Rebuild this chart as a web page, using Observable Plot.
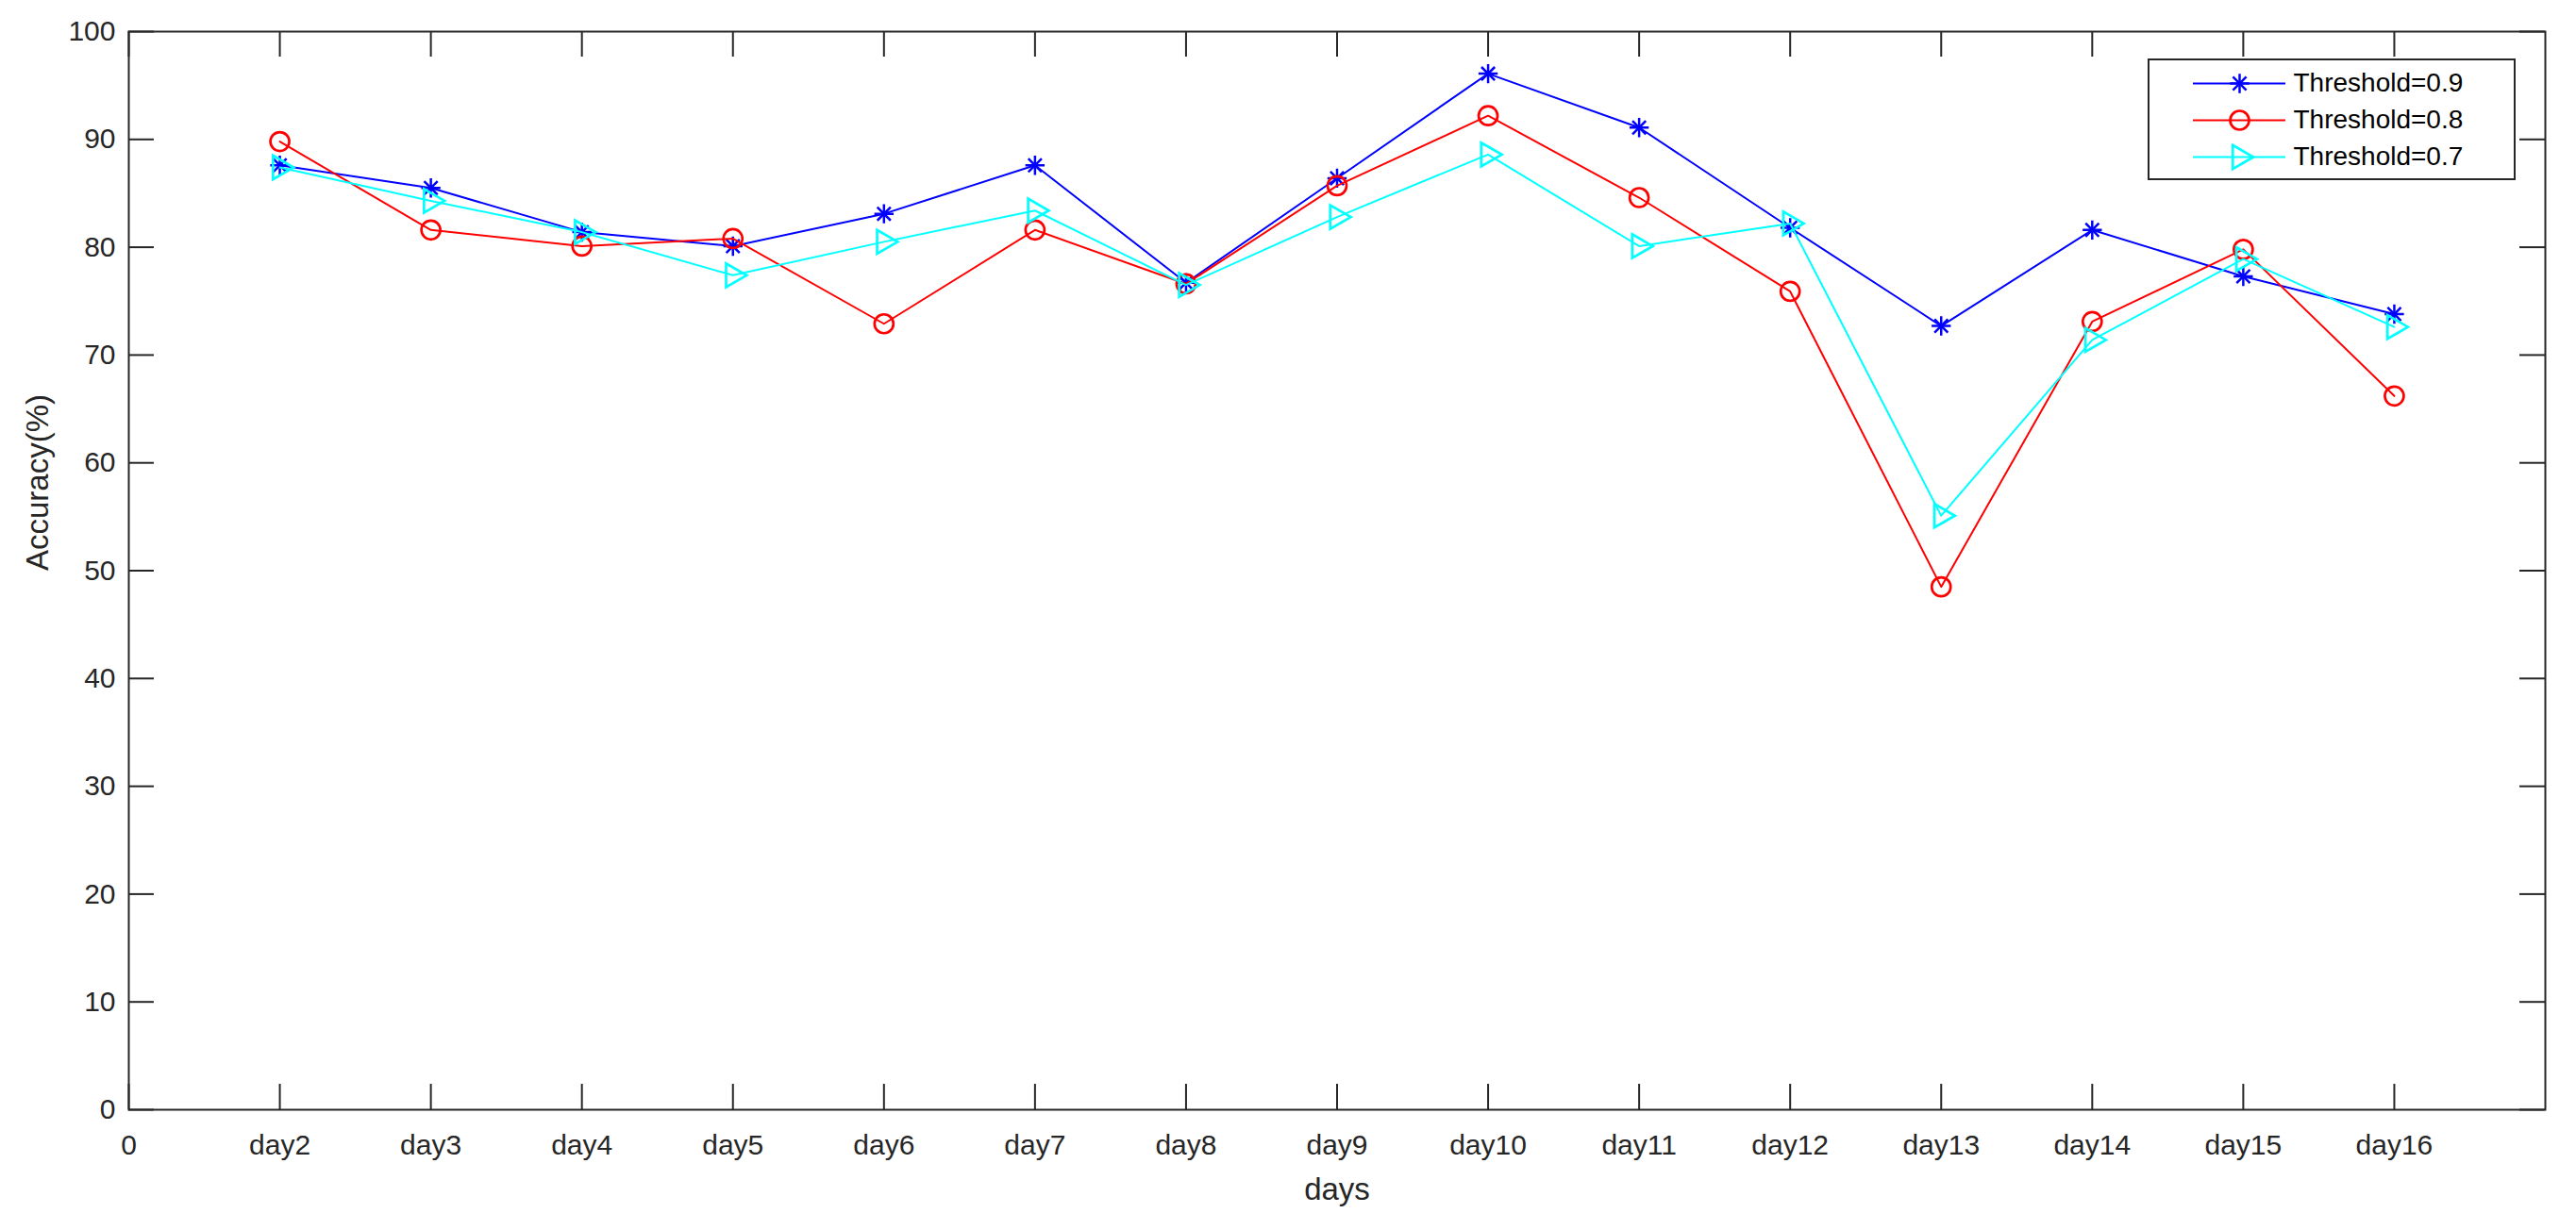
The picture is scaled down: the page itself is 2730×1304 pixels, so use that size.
<!DOCTYPE html>
<html>
<head>
<meta charset="utf-8">
<script src="https://cdn.jsdelivr.net/npm/d3@7"></script>
<script src="https://cdn.jsdelivr.net/npm/@observablehq/plot@0.6"></script>
<style>
  body { margin: 0; background: #fff; }
  #wrap { position: relative; width: 2730px; height: 1304px; font-family: "Liberation Sans", Arial, Helvetica, sans-serif; }
  #legend { position: absolute; left: 2276px; top: 62px; width: 390px; height: 129px; border: 2px solid #262626; background: #fff; box-sizing: border-box; }
  svg { display: block; }
</style>
</head>
<body>
<div id="wrap"><div id="chart"></div><div id="legend"></div></div>
<script>
// ---- data ----
const days = ["day2","day3","day4","day5","day6","day7","day8","day9","day10","day11","day12","day13","day14","day15","day16"];
const xTickValues = [0,1,2,3,4,5,6,7,8,9,10,11,12,13,14,15];
const xTickLabels = ["0","day2","day3","day4","day5","day6","day7","day8","day9","day10","day11","day12","day13","day14","day15","day16"];
const yTickValues = [0,10,20,30,40,50,60,70,80,90,100];
const seriesNames = ["Threshold=0.9","Threshold=0.8","Threshold=0.7"];
const threshold09 = [87.6,85.5,81.4,80.1,83.1,87.6,76.7,86.4,96.1,91.1,81.8,72.7,81.6,77.3,73.8];
const threshold08 = [89.8,81.6,80.1,80.8,72.9,81.6,76.6,85.7,92.2,84.6,75.9,48.5,73.1,79.8,66.2];
const threshold07 = [87.4,84.3,81.4,77.4,80.5,83.4,76.5,82.8,88.6,80.1,82.2,55.1,71.4,78.9,72.6];
const colors = ["#0000ff","#ff0000","#00ffff"];

const seriesValues = [threshold09, threshold08, threshold07];
const tables = seriesValues.map((vals, s) => vals.map((v, i) => ({x: i + 1, day: days[i], value: v, series: seriesNames[s]})));

const axisColor = "#262626";
const font = "'Liberation Sans', Arial, Helvetica, sans-serif";
const W = 2730, H = 1304;
const mL = 136, mR = 33, mT = 33, mB = 128;
const plotW = W - mL - mR, plotH = H - mT - mB;
const tickLen = 27;

const marks = [];
// ticks inward on all sides
marks.push(Plot.tickX(xTickValues, {x: d => d, stroke: axisColor, strokeWidth: 2, insetTop: plotH - tickLen}));
marks.push(Plot.tickX(xTickValues, {x: d => d, stroke: axisColor, strokeWidth: 2, insetBottom: plotH - tickLen}));
marks.push(Plot.tickY(yTickValues, {y: d => d, stroke: axisColor, strokeWidth: 2, insetRight: plotW - tickLen}));
marks.push(Plot.tickY(yTickValues, {y: d => d, stroke: axisColor, strokeWidth: 2, insetLeft: plotW - tickLen}));
marks.push(Plot.frame({stroke: axisColor, strokeWidth: 2}));
marks.push(Plot.axisX({ticks: xTickValues, tickFormat: i => xTickLabels[i], tickSize: 0, tickPadding: 26, fontSize: 30, fill: axisColor, label: null}));
marks.push(Plot.axisY({ticks: yTickValues, tickSize: 0, tickPadding: 14, fontSize: 30, fill: axisColor, label: null}));
marks.push(Plot.text(["days"], {frameAnchor: "bottom", dy: 95, lineAnchor: "bottom", fontSize: 33, fill: axisColor}));
marks.push(Plot.text(["Accuracy(%)"], {frameAnchor: "left", dx: -86, rotate: -90, lineAnchor: "bottom", fontSize: 33, fill: axisColor}));

function seriesMarks(data, s) {
  const c = colors[s];
  const out = [Plot.line(data, {x: "x", y: "value", stroke: c, strokeWidth: 2})];
  if (s === 0) {
    out.push(Plot.dot(data, {x: "x", y: "value", symbol: "plus", r: 6.6, stroke: c, strokeWidth: 2.5, fill: "none"}));
    out.push(Plot.dot(data, {x: "x", y: "value", symbol: "times", r: 6.5, stroke: c, strokeWidth: 2.5, fill: "none"}));
  } else if (s === 1) {
    out.push(Plot.dot(data, {x: "x", y: "value", symbol: "circle", r: 10, stroke: c, strokeWidth: 2.7, fill: "none"}));
  } else {
    out.push(Plot.dot(data, {x: "x", y: "value", symbol: "triangle2", r: 12, rotate: 90, stroke: c, strokeWidth: 2.7, fill: "none"}));
  }
  return out;
}
tables.forEach((t, s) => marks.push(...seriesMarks(t, s)));

const chart = Plot.plot({
  width: W, height: H,
  marginLeft: mL, marginRight: mR, marginTop: mT, marginBottom: mB,
  style: {fontFamily: font, background: "#fff", color: axisColor},
  x: {domain: [0, 16], axis: null},
  y: {domain: [0, 100], axis: null},
  marks
});
document.getElementById("chart").appendChild(chart);

// ---- legend ----
const legendRows = seriesNames.map((name, s) => ({name, s}));
const LW = 386, LH = 125;
const lm = [];
legendRows.forEach(r => {
  const c = colors[r.s];
  const d = [r];
  lm.push(Plot.ruleY(d, {y: "name", stroke: c, strokeWidth: 2, insetLeft: 46, insetRight: LW - 144}));
  if (r.s === 0) {
    lm.push(Plot.dot(d, {y: "name", frameAnchor: "left", dx: 95, symbol: "plus", r: 6.6, stroke: c, strokeWidth: 2.5, fill: "none"}));
    lm.push(Plot.dot(d, {y: "name", frameAnchor: "left", dx: 95, symbol: "times", r: 6.5, stroke: c, strokeWidth: 2.5, fill: "none"}));
  } else if (r.s === 1) {
    lm.push(Plot.dot(d, {y: "name", frameAnchor: "left", dx: 95, symbol: "circle", r: 10, stroke: c, strokeWidth: 2.7, fill: "none"}));
  } else {
    lm.push(Plot.dot(d, {y: "name", frameAnchor: "left", dx: 95, symbol: "triangle2", r: 12, rotate: 90, stroke: c, strokeWidth: 2.7, fill: "none"}));
  }
});
lm.push(Plot.text(legendRows, {y: "name", text: "name", frameAnchor: "left", dx: 152, textAnchor: "start", fontSize: 28, fill: "#000"}));
const legend = Plot.plot({
  width: LW, height: LH,
  marginLeft: 0, marginRight: 0, marginTop: 23, marginBottom: 23,
  style: {fontFamily: font, background: "#fff"},
  y: {type: "point", domain: seriesNames, padding: 0, axis: null},
  marks: lm
});
document.getElementById("legend").appendChild(legend);
</script>
</body>
</html>
